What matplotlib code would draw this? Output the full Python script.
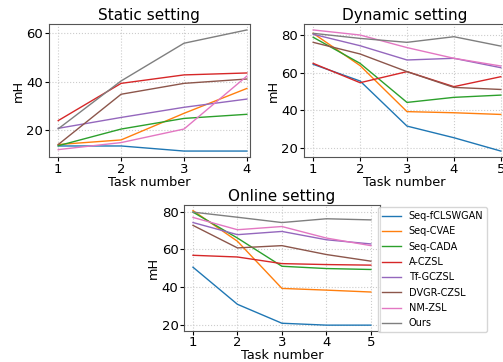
import matplotlib.pyplot as plt

methods = ["Seq-fCLSWGAN", "Seq-CVAE", "Seq-CADA", "A-CZSL",
           "Tf-GCZSL", "DVGR-CZSL", "NM-ZSL", "Ours"]
colors = ["tab:blue", "tab:orange", "tab:green", "tab:red",
          "tab:purple", "tab:brown", "tab:pink", "tab:gray"]

static_tasks = [1, 2, 3, 4]
static_mh = [
    [13.4, 13.4, 11.3, 11.3],
    [14.0, 15.9, 26.9, 37.2],
    [13.5, 20.4, 24.8, 26.5],
    [23.9, 39.3, 42.8, 43.6],
    [20.7, 25.2, 29.4, 32.8],
    [14.0, 34.8, 39.3, 41.1],
    [11.9, 14.8, 20.4, 42.3],
    [20.5, 40.3, 55.9, 61.4],
]

dynamic_tasks = [1, 2, 3, 4, 5]
dynamic_mh = [
    [64.4, 55.5, 31.5, 25.3, 18.2],
    [80.9, 63.7, 39.2, 38.6, 37.7],
    [78.8, 64.9, 44.1, 46.8, 48.0],
    [64.9, 54.6, 60.5, 52.5, 57.8],
    [80.4, 74.3, 66.7, 67.6, 62.6],
    [76.1, 69.9, 60.5, 52.1, 51.0],
    [82.7, 80.0, 73.3, 67.6, 63.5],
    [80.9, 78.2, 76.1, 79.1, 74.1],
]

online_tasks = [1, 2, 3, 4, 5]
online_mh = [
    [50.6, 31.0, 21.0, 20.0, 20.0],
    [80.5, 64.3, 39.4, 38.5, 37.5],
    [79.7, 66.0, 51.1, 49.9, 49.4],
    [56.9, 56.0, 52.5, 52.0, 51.7],
    [74.2, 67.8, 69.5, 65.1, 62.9],
    [72.7, 60.8, 62.0, 57.3, 53.8],
    [76.9, 70.4, 72.1, 66.0, 62.0],
    [79.7, 77.0, 74.2, 76.2, 75.6],
]

fig = plt.figure(figsize=(5.03, 3.62), dpi=100)
ax1 = fig.add_axes([0.097, 0.566, 0.400, 0.368])
ax2 = fig.add_axes([0.604, 0.566, 0.400, 0.368])
ax3 = fig.add_axes([0.366, 0.086, 0.389, 0.348])


def draw(ax, tasks, data, title):
    for name, c, vals in zip(methods, colors, data):
        ax.plot(tasks, vals, color=c, lw=1.0, label=name)
    ax.set_title(title, fontsize=11, pad=3)
    ax.set_xlabel("Task number", fontsize=9.3, labelpad=0)
    ax.set_ylabel("mH", fontsize=9.3, labelpad=1)
    ax.set_xticks(tasks)
    ax.tick_params(labelsize=9.5, pad=1, length=3)
    ax.grid(True, linestyle=":", color="#cccccc", lw=0.8)
    for s in ax.spines.values():
        s.set_color("#555555")


draw(ax1, static_tasks, static_mh, "Static setting")
ax1.set_xlim(0.85, 4.05)
ax1.set_yticks([20, 40, 60])
draw(ax2, dynamic_tasks, dynamic_mh, "Dynamic setting")
ax2.set_xlim(0.8, 5.09)
ax2.set_yticks([20, 40, 60, 80])
draw(ax3, online_tasks, online_mh, "Online setting")
ax3.set_yticks([20, 40, 60, 80])

handles, labels = ax3.get_legend_handles_labels()
fig.legend(handles, labels, loc="upper left", bbox_to_anchor=(0.751, 0.428),
           fontsize=7, frameon=True, handlelength=2.0, labelspacing=0.55,
           borderpad=0.4, borderaxespad=0, fancybox=True)

fig.savefig("out.png", dpi=100)
